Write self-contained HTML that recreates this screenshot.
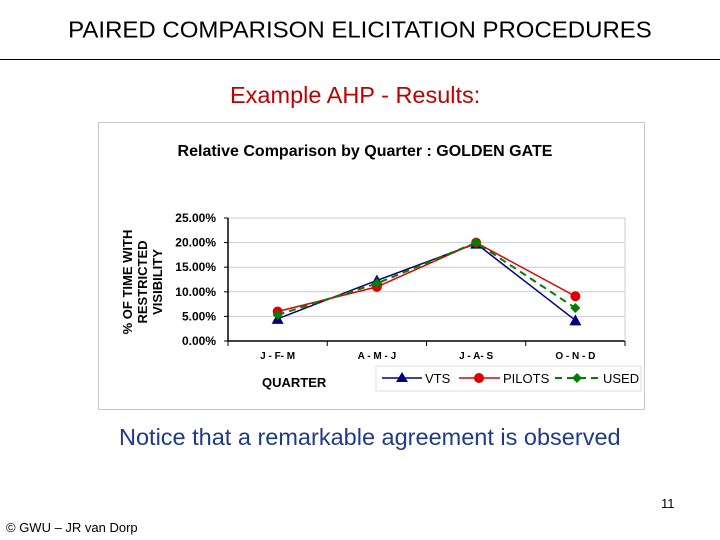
<!DOCTYPE html>
<html><head><meta charset="utf-8"><style>
body{margin:0;width:720px;height:540px;background:#fff;font-family:"Liberation Sans",sans-serif;position:relative;overflow:hidden}
.a{position:absolute;white-space:nowrap}
</style></head><body>
<div class="a" style="left:0;width:720px;text-align:center;top:17px;font-size:24px;color:#000;transform:scaleY(0.95)">PAIRED COMPARISON ELICITATION PROCEDURES</div>
<div class="a" style="left:0;top:59px;width:720px;height:1px;background:#000"></div>
<div class="a" style="left:230px;top:82px;font-size:23.5px;color:#c00000">Example AHP - Results:</div>
<svg class="a" style="left:0;top:0" width="720" height="540">
<rect x="98.5" y="122.5" width="546" height="287" fill="#fff" stroke="#c8c8c8"/>
<text x="365" y="156" text-anchor="middle" font-size="16" font-weight="bold" font-family="Liberation Sans">Relative Comparison by Quarter : GOLDEN GATE</text>
<g id="grid"></g><g id="ax"></g><g id="ser"></g>
<text transform="translate(132,282) rotate(-90)" text-anchor="middle" font-size="13" font-weight="bold" font-family="Liberation Sans"><tspan x="0" dy="0">% OF TIME WITH</tspan><tspan x="0" dy="15">RESTRICTED</tspan><tspan x="0" dy="15">VISIBILITY</tspan></text>
<text x="262" y="387" font-size="13" font-weight="bold" font-family="Liberation Sans">QUARTER</text>
<g>
<rect x="376" y="366" width="265" height="25" fill="#fff" stroke="#ddd"/>
<line x1="382" y1="378" x2="422" y2="378" stroke="#000080" stroke-width="1.5"/><polygon points="402,372 396,382 408,382" fill="#000080"/>
<text x="425" y="383" font-size="13" font-family="Liberation Sans">VTS</text>
<line x1="459" y1="378" x2="500" y2="378" stroke="#e00000" stroke-width="1.5"/><circle cx="479" cy="378" r="5" fill="#e00000"/>
<text x="503" y="383" font-size="13" font-family="Liberation Sans">PILOTS</text>
<line x1="555" y1="378" x2="600" y2="378" stroke="#008000" stroke-width="2" stroke-dasharray="7,5"/><polygon points="577,373 582,378 577,383 572,378" fill="#008000"/>
<text x="603" y="383" font-size="13" font-family="Liberation Sans">USED</text>
</g>
</svg>
<div class="a" style="left:119px;top:424px;font-size:23.5px;color:#1f3a8a">Notice that a remarkable agreement is observed</div>
<div class="a" style="left:661px;top:496px;font-size:13px">11</div>
<div class="a" style="left:6px;top:520px;font-size:13px">© GWU – JR van Dorp</div>
<script>
const categories=["J - F- M","A - M - J","J - A- S","O - N - D"];
const yTicks=[0,5,10,15,20,25];
const vts=[4.5,12.3,19.8,4.2];
const pilots=[6.0,11.0,20.0,9.1];
const used=[5.3,11.7,20.0,6.7];
const NS="http://www.w3.org/2000/svg";
const L=228,R=625,T=218,B=341;
const y=v=>B-(v/25)*(B-T);
const x=i=>L+(R-L)/categories.length*(i+0.5);
function mk(p,t,a){const e=document.createElementNS(NS,t);for(const k in a)e.setAttribute(k,a[k]);p.appendChild(e);return e;}
const g=document.getElementById('grid'),ax=document.getElementById('ax'),s=document.getElementById('ser');
yTicks.forEach(v=>{
 const ln=mk(g,'line',{x1:L,x2:R,y1:y(v),y2:y(v),stroke:v?'#ccc':'#000','stroke-width':v?1:1.5});
 
 
 const t=mk(ax,'text',{x:L-12,y:y(v)+4,'text-anchor':'end','font-size':12,'font-weight':'bold','font-family':'Liberation Sans'});
 t.textContent=v.toFixed(2)+'%';
 
 
 mk(ax,'line',{x1:L-4,x2:L,y1:y(v),y2:y(v),stroke:'#000'});
});
mk(ax,'line',{x1:L,x2:L,y1:T,y2:B,stroke:'#000','stroke-width':1.5});
mk(g,'line',{x1:R,x2:R,y1:T,y2:B,stroke:'#ccc'});
for(let i=0;i<=categories.length;i++)mk(ax,'line',{x1:L+(R-L)/4*i,x2:L+(R-L)/4*i,y1:B,y2:B+5,stroke:'#000'});
categories.forEach((c,i)=>{
 const t=mk(ax,'text',{x:x(i),y:B+18,'text-anchor':'middle','font-size':10,'font-weight':'bold','font-family':'Liberation Sans'});
 t.textContent=c;
 
 
});
function series(d,col,name,dash,marker){
 const p=mk(s,'polyline',{points:d.map((v,i)=>x(i)+','+y(v)).join(' '),fill:'none',stroke:col,'stroke-width':dash?2:1.5,'stroke-dasharray':dash||'none'});
 
 
 d.forEach((v,i)=>{
  const cx=x(i),cy=y(v);let m;
  if(marker==='tri')m=mk(s,'polygon',{points:`${cx},${cy-6} ${cx-6},${cy+5} ${cx+6},${cy+5}`,fill:col});
  else if(marker==='c')m=mk(s,'circle',{cx:cx,cy:cy,r:5,fill:col});
  else m=mk(s,'polygon',{points:`${cx},${cy-5} ${cx+5},${cy} ${cx},${cy+5} ${cx-5},${cy}`,fill:col});
  
  
 });
}
series(vts,'#000080','vts',null,'tri');
series(pilots,'#e00000','pilots',null,'c');
series(used,'#008000','used','7,5','d');
</script>
</body></html>
